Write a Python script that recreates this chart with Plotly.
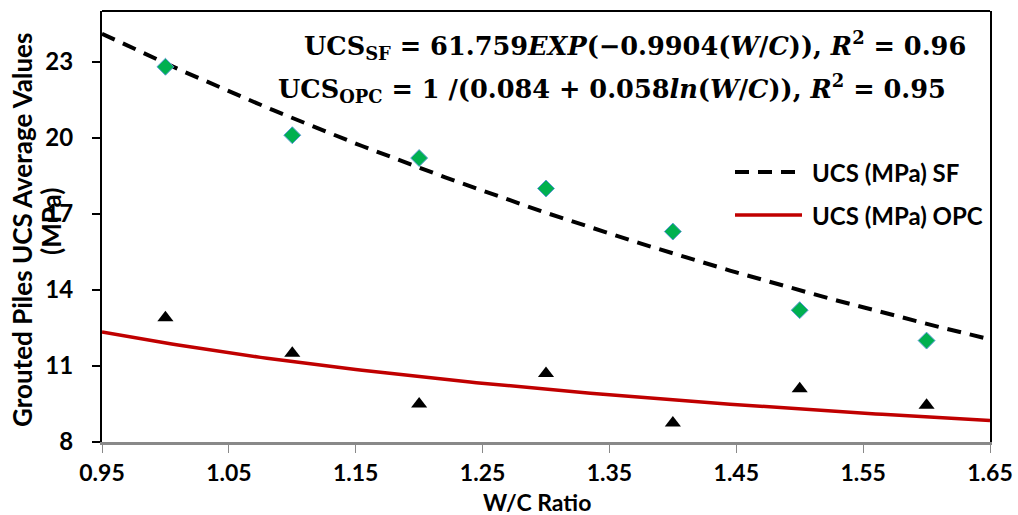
import numpy as np
import plotly.graph_objects as go

# ---- data ----
wc_ratio = [1.0, 1.1, 1.2, 1.3, 1.4, 1.5, 1.6]
ucs_sf = [22.8, 20.1, 19.2, 18.0, 16.3, 13.2, 12.0]
ucs_opc = [12.9, 11.5, 9.5, 10.7, 8.75, 10.1, 9.45]

# trend-line coefficients printed on the chart
sf_a, sf_b = 61.759, -0.9904          # UCS_SF = a*exp(b*x)
opc_c0, opc_c1 = 0.084, 0.058         # UCS_OPC = 1/(c0 + c1*ln x)

x_ticks = [0.95, 1.05, 1.15, 1.25, 1.35, 1.45, 1.55, 1.65]
y_ticks = [8, 11, 14, 17, 20, 23]
legend_names = ["UCS (MPa) SF", "UCS (MPa) OPC"]

x_fit = np.linspace(0.95, 1.65, 141)
sf_fit = sf_a * np.exp(sf_b * x_fit)
opc_fit = 1.0 / (opc_c0 + opc_c1 * np.log(x_fit))

FONT = "Lato"
EQFONT = "DejaVu Serif"
SF_LINE = dict(color="black", width=4, dash="14px,9px")
OPC_LINE = dict(color="#C00000", width=3.5)

fig = go.Figure()

fig.add_trace(go.Scatter(x=x_fit, y=sf_fit, mode="lines", name=legend_names[0],
                         line=SF_LINE, showlegend=False))
fig.add_trace(go.Scatter(x=x_fit, y=opc_fit, mode="lines", name=legend_names[1],
                         line=OPC_LINE, showlegend=False))
fig.add_trace(go.Scatter(
    x=wc_ratio, y=ucs_sf, mode="markers", showlegend=False,
    marker=dict(symbol="diamond", size=13, color="#00B050",
                line=dict(color="#5B9BD5", width=1))))
fig.add_trace(go.Scatter(
    x=wc_ratio, y=ucs_opc, mode="markers", showlegend=False,
    marker=dict(symbol="triangle-up", size=14, color="black")))

fig.update_layout(
    width=1018, height=515,
    margin=dict(l=102, r=28, t=11, b=73),
    plot_bgcolor="white", paper_bgcolor="white",
    font=dict(family=FONT, size=24, color="black"),
    showlegend=False,
)

fig.update_xaxes(
    range=[0.95, 1.65], tickvals=x_ticks,
    ticktext=[f"<b>{v:.2f}</b>" for v in x_ticks],
    showgrid=False, zeroline=False, automargin=False,
    showline=True, linecolor="#898989", linewidth=2.5,
    ticks="outside", tickcolor="#898989", ticklen=8, tickwidth=1,
    ticklabelstandoff=1,
    tickfont=dict(size=23, family=FONT),
)
fig.update_yaxes(
    range=[8, 25], tickvals=y_ticks,
    ticktext=[f"<b>{v}</b>" for v in y_ticks],
    showgrid=False, zeroline=False, automargin=False,
    showline=True, linecolor="black", linewidth=2, mirror=True,
    ticks="outside", tickcolor="black", ticklen=8, tickwidth=2,
    ticklabelstandoff=14,
    tickfont=dict(size=24, family=FONT),
)

# top border of plot frame
fig.add_shape(type="line", xref="paper", yref="paper", x0=0, x1=1, y0=1, y1=1,
              line=dict(color="black", width=2))

PW, PH = 888.0, 431.0
def px_x(p):
    return (p - 102) / PW
def px_y(p):
    return (442 - p) / PH

# custom legend (long line samples as in the reference)
for name, style, ypix in [(legend_names[0], SF_LINE, 172), (legend_names[1], OPC_LINE, 215)]:
    fig.add_shape(type="line", xref="paper", yref="paper",
                  x0=px_x(735), x1=px_x(802), y0=px_y(ypix), y1=px_y(ypix),
                  line=style)
    fig.add_annotation(text=f"<b>{name}</b>", xref="paper", yref="paper",
                       x=px_x(810), y=px_y(ypix), xanchor="left", yanchor="middle",
                       showarrow=False, font=dict(size=24, family=FONT))

# x-axis title
fig.add_annotation(text="<b>W/C Ratio</b>", xref="paper", yref="paper",
                   x=px_x(537), y=px_y(502), xanchor="center", yanchor="middle",
                   showarrow=False, font=dict(size=23, family=FONT))

# y-axis title (two lines)
fig.add_annotation(text="<b>Grouted Piles UCS Average Values</b>", xref="paper", yref="paper",
                   x=px_x(22), y=px_y(230), xanchor="center", yanchor="middle", textangle=-90,
                   showarrow=False, font=dict(size=26, family=FONT))
fig.add_annotation(text="<b>(MPa)</b>", xref="paper", yref="paper",
                   x=px_x(51), y=px_y(222), xanchor="center", yanchor="middle", textangle=-90,
                   showarrow=False, font=dict(size=26, family=FONT))

# equations
eq1 = ("<b>UCS<sub>SF</sub> = 61.759<i>EXP</i>(−0.9904(<i>W</i>/<i>C</i>)), "
       "<i>R</i><sup>2</sup> = 0.96</b>")
eq2 = ("<b>UCS<sub>OPC</sub> = 1 /(0.084 + 0.058<i>ln</i>(<i>W</i>/<i>C</i>)), "
       "<i>R</i><sup>2</sup> = 0.95</b>")
fig.add_annotation(text=eq1, xref="paper", yref="paper", x=px_x(968), y=px_y(45),
                   xanchor="right", yanchor="middle", showarrow=False,
                   font=dict(size=25.6, family=EQFONT))
fig.add_annotation(text=eq2, xref="paper", yref="paper", x=px_x(948), y=px_y(88),
                   xanchor="right", yanchor="middle", showarrow=False,
                   font=dict(size=25.6, family=EQFONT))

fig.write_html("out.html")
